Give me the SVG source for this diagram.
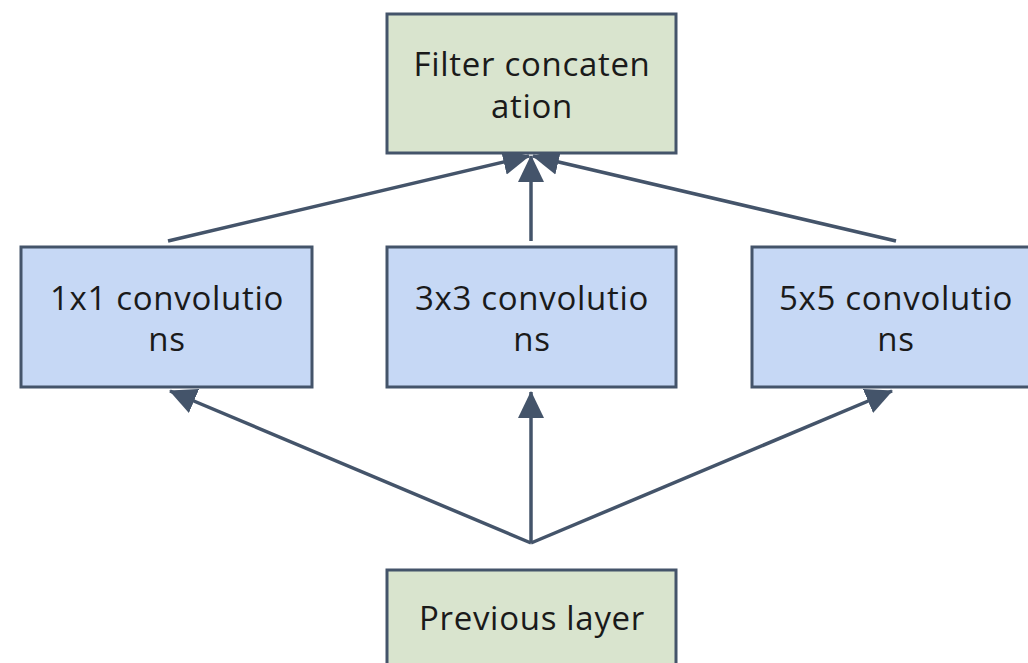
<svg xmlns="http://www.w3.org/2000/svg" width="1028" height="663" viewBox="0 0 1028 663">
<defs>
<style>
.box{stroke:#44546A;stroke-width:3}
.g{fill:#D9E4CE}
.b{fill:#C6D8F5}
.t{font-family:"Open Sans","Noto Sans",sans-serif;font-size:33px;letter-spacing:0.7px;fill:#1a1a1a;text-anchor:middle}
.c{stroke:#44546A;stroke-width:3.5;fill:none;marker-end:url(#ah)}
</style>
<marker id="ah" markerUnits="userSpaceOnUse" markerWidth="28" markerHeight="28" viewBox="0 0 28 28" refX="26" refY="14" orient="auto">
<path d="M0,1 L27,14 L0,27 Z" fill="#44546A"/>
</marker>
</defs>
<rect width="1028" height="663" fill="#ffffff"/>
<g id="connectors">
<line class="c" x1="168" y1="241" x2="529" y2="156"/>
<line class="c" x1="531" y1="241" x2="531" y2="156"/>
<line class="c" x1="896" y1="241" x2="533" y2="156"/>
<line class="c" x1="531" y1="543" x2="170" y2="391"/>
<line class="c" x1="531" y1="543" x2="531" y2="392"/>
<line class="c" x1="531" y1="543" x2="892" y2="391"/>
</g>
<g id="filter-concat">
<rect class="box g" x="387" y="14" width="289" height="139"/>
<text class="t" x="532" y="76">Filter concaten</text>
<text class="t" x="532" y="118">ation</text>
</g>
<g id="conv1">
<rect class="box b" x="21" y="247" width="291" height="140"/>
<text class="t" x="167" y="310">1x1 convolutio</text>
<text class="t" x="167" y="351">ns</text>
</g>
<g id="conv3">
<rect class="box b" x="387" y="247" width="289" height="140"/>
<text class="t" x="532" y="310">3x3 convolutio</text>
<text class="t" x="532" y="351">ns</text>
</g>
<g id="conv5">
<rect class="box b" x="752" y="247" width="291" height="140"/>
<text class="t" x="896" y="310">5x5 convolutio</text>
<text class="t" x="896" y="351">ns</text>
</g>
<g id="previous">
<rect class="box g" x="387" y="570" width="289" height="110"/>
<text class="t" x="532" y="630">Previous layer</text>
</g>
</svg>
